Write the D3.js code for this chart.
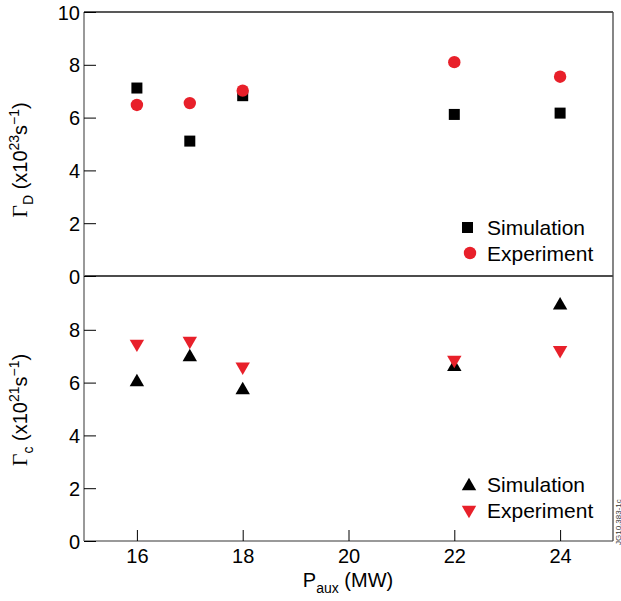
<!DOCTYPE html>
<html>
<head>
<meta charset="utf-8">
<script src="https://cdn.jsdelivr.net/npm/d3@7"></script>
<style>
  body { margin: 0; background: #fff; }
  text { font-family: "Liberation Sans", Arial, sans-serif; fill: #000; }
</style>
</head>
<body>
<script>
// P_aux (MW)
const paux = [16, 17, 18, 22, 24];
// Gamma_D (x10^23 s^-1)
const gammaDSim = [7.12, 5.11, 6.83, 6.12, 6.17];
const gammaDExp = [6.48, 6.55, 7.02, 8.1, 7.55];
// Gamma_C (x10^21 s^-1)
const gammaCSim = [6.02, 6.97, 5.72, 6.6, 8.93];
const gammaCExp = [7.47, 7.58, 6.6, 6.86, 7.23];
const xTicks = [16, 18, 20, 22, 24];
const yTicksTop = [0, 2, 4, 6, 8, 10];
const yTicksBot = [0, 2, 4, 6, 8];

const W = 621, H = 601;
const left = 84, right = 613;
const topY = 12, midY = 276, botY = 541;

const svg = d3.select("body").append("svg")
    .attr("width", W).attr("height", H);

const x = d3.scaleLinear().domain([15, 25]).range([left, right]);
const yTop = d3.scaleLinear().domain([0, 10]).range([midY, topY]);
const yBot = d3.scaleLinear().domain([0, 10]).range([botY, midY + 1]);

const grey = "#777";

// frame
svg.append("line").attr("x1", left).attr("x2", right).attr("y1", topY).attr("y2", topY)
    .attr("stroke", "#222").attr("stroke-width", 1.3);
svg.append("line").attr("x1", left).attr("x2", right).attr("y1", midY).attr("y2", midY)
    .attr("stroke", "#111").attr("stroke-width", 1.3);
svg.append("line").attr("x1", left).attr("x2", right).attr("y1", botY).attr("y2", botY)
    .attr("stroke", grey).attr("stroke-width", 1.5);
svg.append("line").attr("x1", left).attr("x2", left).attr("y1", topY).attr("y2", botY)
    .attr("stroke", grey).attr("stroke-width", 1.5);
svg.append("line").attr("x1", right).attr("x2", right).attr("y1", topY).attr("y2", botY)
    .attr("stroke", "#444").attr("stroke-width", 1.3);

function yAxis(scale, ticks) {
    const g = svg.append("g").attr("transform", "translate(" + left + ",0)")
        .call(d3.axisRight(scale).tickValues(ticks).tickSize(12).tickFormat(d3.format("d")));
    g.select(".domain").remove();
    g.selectAll(".tick line").attr("stroke", "#000").attr("stroke-width", 1);
    g.selectAll(".tick text").attr("x", -4).attr("text-anchor", "end")
        .style("font-size", "20px").attr("dy", "0.35em");
}
yAxis(yTop, yTicksTop);
yAxis(yBot, yTicksBot);

const gx = svg.append("g").attr("transform", "translate(0," + botY + ")")
    .call(d3.axisTop(x).tickValues(xTicks).tickSize(11));
gx.select(".domain").remove();
gx.selectAll(".tick line").attr("stroke", "#000").attr("stroke-width", 1);
gx.selectAll(".tick text").attr("y", 8).attr("dy", "0.71em").style("font-size", "20px");

// markers
const red = "#e8202a";
const sq = 11;
svg.append("g").selectAll("rect").data(paux).join("rect")
    .attr("x", (d) => x(d) - sq / 2)
    .attr("y", (d, i) => yTop(gammaDSim[i]) - sq / 2)
    .attr("width", sq).attr("height", sq).attr("fill", "#000");
svg.append("g").selectAll("circle").data(paux).join("circle")
    .attr("cx", (d) => x(d))
    .attr("cy", (d, i) => yTop(gammaDExp[i]))
    .attr("r", 6.2).attr("fill", red);

const triUp = d3.symbol().type(d3.symbolTriangle).size(90);
svg.append("g").selectAll("path").data(paux).join("path")
    .attr("d", triUp)
    .attr("transform", (d, i) => "translate(" + x(d) + "," + yBot(gammaCSim[i]) + ")")
    .attr("fill", "#000");
svg.append("g").selectAll("path").data(paux).join("path")
    .attr("d", triUp)
    .attr("transform", (d, i) => "translate(" + x(d) + "," + yBot(gammaCExp[i]) + ") rotate(180)")
    .attr("fill", red);

// legends
function legendText(px, py, txt) {
    svg.append("text").attr("x", px).attr("y", py).attr("dy", "0.35em")
        .style("font-size", "21px").text(txt);
}
svg.append("rect").attr("x", 462).attr("y", 222).attr("width", 11).attr("height", 11).attr("fill", "#000");
legendText(487, 228, "Simulation");
svg.append("circle").attr("cx", 470).attr("cy", 253).attr("r", 6.2).attr("fill", red);
legendText(487, 254, "Experiment");

svg.append("path").attr("d", triUp).attr("transform", "translate(469,486)").attr("fill", "#000");
legendText(487, 485, "Simulation");
svg.append("path").attr("d", triUp).attr("transform", "translate(469,510) rotate(180)").attr("fill", red);
legendText(487, 511, "Experiment");

// axis titles
const t1 = svg.append("text").attr("transform", "translate(27,160) rotate(-90)")
    .attr("text-anchor", "middle").style("font-size", "20px");
t1.append("tspan").style("font-family", "'Liberation Serif', serif").style("font-size", "22px").text("\u0393");
t1.append("tspan").attr("dy", 6).style("font-size", "14px").text("D");
t1.append("tspan").attr("dy", -6).text(" (x10");
t1.append("tspan").attr("dy", -8).style("font-size", "14px").text("23");
t1.append("tspan").attr("dy", 8).text("s");
t1.append("tspan").attr("dy", -8).style("font-size", "14px").text("\u22121");
t1.append("tspan").attr("dy", 8).text(")");

const t2 = svg.append("text").attr("transform", "translate(27,410) rotate(-90)")
    .attr("text-anchor", "middle").style("font-size", "20px");
t2.append("tspan").style("font-family", "'Liberation Serif', serif").style("font-size", "22px").text("\u0393");
t2.append("tspan").attr("dy", 6).style("font-size", "14px").text("c");
t2.append("tspan").attr("dy", -6).text(" (x10");
t2.append("tspan").attr("dy", -8).style("font-size", "14px").text("21");
t2.append("tspan").attr("dy", 8).text("s");
t2.append("tspan").attr("dy", -8).style("font-size", "14px").text("\u22121");
t2.append("tspan").attr("dy", 8).text(")");

const t3 = svg.append("text").attr("x", 348).attr("y", 587)
    .attr("text-anchor", "middle").style("font-size", "20px");
t3.append("tspan").text("P");
t3.append("tspan").attr("dy", 6).style("font-size", "14px").text("aux");
t3.append("tspan").attr("dy", -6).text(" (MW)");

svg.append("text").attr("transform", "translate(620.5,545) rotate(-90)")
    .style("font-size", "8px").style("fill", "#333").text("JG10.383-1c");
</script>
</body>
</html>
